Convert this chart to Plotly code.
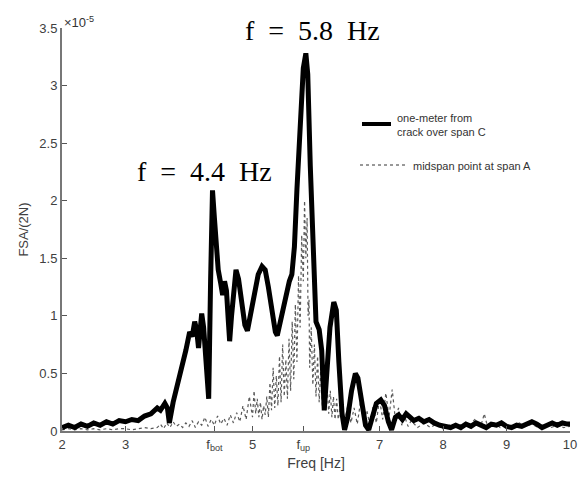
import plotly.graph_objects as go

# ---- data (values in units of 1e-5) ----
crack_freq = [2.00, 2.10, 2.20, 2.30, 2.40, 2.50, 2.60, 2.70, 2.80, 2.90, 3.00, 3.10, 3.20, 3.30,
              3.40, 3.50, 3.55, 3.62, 3.66, 3.69, 3.75, 3.82, 3.88, 3.95, 4.01, 4.05, 4.09, 4.12,
              4.15, 4.18, 4.20, 4.23, 4.26, 4.29, 4.31, 4.34, 4.37, 4.40, 4.43, 4.46, 4.50, 4.53,
              4.56, 4.59, 4.62, 4.64, 4.67, 4.71, 4.74, 4.78, 4.83, 4.88, 4.92, 4.97, 5.03, 5.09,
              5.15, 5.20, 5.25, 5.31, 5.36, 5.39, 5.45, 5.52, 5.58, 5.62, 5.66, 5.70, 5.75, 5.80,
              5.84, 5.87, 5.91, 5.96, 6.00, 6.05, 6.09, 6.13, 6.17, 6.22, 6.28, 6.32, 6.36, 6.41,
              6.45, 6.50, 6.56, 6.62, 6.66, 6.72, 6.78, 6.83, 6.88, 6.95, 7.02, 7.08, 7.14, 7.19,
              7.25, 7.30, 7.36, 7.42, 7.48, 7.54, 7.62, 7.70, 7.78, 7.86, 7.95, 8.04, 8.12, 8.20,
              8.28, 8.36, 8.44, 8.52, 8.60, 8.68, 8.76, 8.84, 8.92, 9.00, 9.08, 9.16, 9.24, 9.32,
              9.40, 9.48, 9.56, 9.64, 9.72, 9.80, 9.88, 9.96, 10.00]
crack_val = [0.03, 0.05, 0.03, 0.06, 0.04, 0.07, 0.05, 0.08, 0.06, 0.09, 0.08, 0.10, 0.09, 0.13,
             0.15, 0.20, 0.18, 0.24, 0.20, 0.07, 0.25, 0.40, 0.52, 0.70, 0.86, 0.82, 0.95, 0.88,
             0.72, 0.95, 1.02, 0.90, 0.60, 0.35, 0.28, 1.30, 2.09, 1.85, 1.55, 1.40, 1.28, 1.18,
             1.30, 1.22, 0.95, 0.78, 1.00, 1.28, 1.40, 1.32, 1.08, 0.92, 0.87, 1.00, 1.20, 1.36,
             1.43, 1.40, 1.25, 1.02, 0.86, 0.83, 0.97, 1.18, 1.30, 1.36, 1.60, 2.10, 2.70, 3.15,
             3.28, 3.10, 2.30, 1.40, 0.95, 0.88, 0.70, 0.18, 0.55, 0.90, 1.12, 1.05, 0.60, 0.15,
             0.01, 0.12, 0.35, 0.50, 0.46, 0.22, 0.05, 0.01, 0.10, 0.24, 0.27, 0.22, 0.08, 0.01,
             0.12, 0.14, 0.10, 0.15, 0.12, 0.09, 0.11, 0.08, 0.10, 0.07, 0.05, 0.04, 0.03, 0.05,
             0.03, 0.06, 0.04, 0.07, 0.05, 0.03, 0.06, 0.05, 0.07, 0.04, 0.03, 0.05, 0.04, 0.06,
             0.08, 0.06, 0.03, 0.05, 0.07, 0.05, 0.07, 0.06, 0.06]

mid_freq = [2.0, 2.1, 2.2, 2.3, 2.4, 2.5, 2.6, 2.7, 2.8, 2.9, 3.0, 3.1, 3.2, 3.3, 3.4,
            3.50, 3.55, 3.60, 3.65, 3.70, 3.75, 3.80, 3.85, 3.90, 3.95, 4.00, 4.05, 4.10, 4.15,
            4.20, 4.25, 4.30, 4.35, 4.40, 4.45, 4.50, 4.55, 4.60, 4.65, 4.70, 4.75, 4.80, 4.85,
            4.90, 4.95, 5.00,
            5.025, 5.05, 5.075, 5.10, 5.125, 5.15, 5.175, 5.20, 5.225, 5.25, 5.275, 5.30, 5.325,
            5.35, 5.375, 5.40, 5.425, 5.45, 5.475, 5.50, 5.525, 5.55, 5.575, 5.60, 5.625, 5.65,
            5.675, 5.70, 5.725, 5.75, 5.775, 5.80, 5.82, 5.84, 5.86, 5.875, 5.89, 5.90, 5.925,
            5.95, 5.975, 6.00, 6.025, 6.05, 6.075, 6.10, 6.125, 6.15, 6.175, 6.20, 6.225, 6.25,
            6.275, 6.30, 6.325,
            6.35, 6.40, 6.45, 6.50, 6.55, 6.60, 6.65, 6.70, 6.75, 6.80, 6.85, 6.90, 6.95, 7.00,
            7.05, 7.10, 7.15, 7.20, 7.25, 7.30, 7.35, 7.40, 7.45, 7.50,
            7.6, 7.7, 7.8, 7.9, 8.0, 8.1, 8.2, 8.3, 8.4, 8.5, 8.6, 8.65, 8.7, 8.8, 8.9, 9.0,
            9.1, 9.2, 9.3, 9.4, 9.5, 9.6, 9.7, 9.8, 9.9, 10.0]
mid_val = [0.01, 0.02, 0.01, 0.02, 0.01, 0.02, 0.01, 0.02, 0.01, 0.02, 0.02, 0.01, 0.02, 0.03, 0.02,
           0.03, 0.06, 0.02, 0.07, 0.03, 0.08, 0.04, 0.06, 0.03, 0.07, 0.04, 0.09, 0.03, 0.08,
           0.05, 0.12, 0.04, 0.10, 0.05, 0.13, 0.06, 0.11, 0.05, 0.14, 0.07, 0.16, 0.08, 0.22,
           0.10, 0.30, 0.12,
           0.35, 0.15, 0.28, 0.12, 0.25, 0.10, 0.22, 0.14, 0.30, 0.12, 0.42, 0.18, 0.55,
           0.20, 0.48, 0.22, 0.65, 0.25, 0.75, 0.30, 0.62, 0.28, 0.80, 0.35, 0.95, 0.45,
           1.10, 0.60, 1.35, 0.90, 1.70, 1.30, 2.00, 1.50, 1.85, 1.00, 1.14, 0.55, 0.90,
           0.40, 0.75, 0.30, 0.65, 0.25, 0.55, 0.22, 0.45, 0.18, 0.40, 0.15, 0.35, 0.12,
           0.30, 0.10, 0.28,
           0.10, 0.25, 0.08, 0.22, 0.07, 0.20, 0.06, 0.25, 0.08, 0.18, 0.05, 0.22, 0.07, 0.28,
           0.10, 0.33, 0.12, 0.36, 0.10, 0.20, 0.05, 0.12, 0.04, 0.09,
           0.03, 0.07, 0.03, 0.06, 0.02, 0.05, 0.03, 0.06, 0.04, 0.10, 0.05, 0.15, 0.04, 0.07,
           0.03, 0.06, 0.03, 0.07, 0.04, 0.06, 0.03, 0.05, 0.03, 0.05, 0.03, 0.04]

x_tick_vals = [2, 3, 4.4, 5, 5.8, 7, 8, 9, 10]
x_tick_text = ["2", "3", "f<sub>bot</sub>", "5", "f<sub>up</sub>", "7", "8", "9", "10"]
y_tick_vals = [0, 0.5, 1, 1.5, 2, 2.5, 3, 3.5]
y_tick_text = ["0", "0.5", "1", "1.5", "2", "2.5", "3", "3.5"]

name_crack = "one-meter from<br>crack over span C"
name_mid = "midspan point at span A"
NB = "\u00a0"
label_low = f"f{NB}{NB}={NB}{NB}4.4{NB}{NB}Hz"
label_high = f"f{NB}{NB}={NB}{NB}5.8{NB}{NB}Hz"

W, H = 579, 488
L, R, T, B = 62, 9, 28, 57
pw, ph = W - L - R, H - T - B

def px(x):  # screenshot pixel -> paper
    return (x - L) / pw

def py(y):
    return (H - B - y) / ph

fig = go.Figure()
fig.add_trace(go.Scatter(x=mid_freq, y=mid_val, mode="lines", name=name_mid,
                         line=dict(color="#5a5a5a", width=1.2, dash="dot"), showlegend=False))
fig.add_trace(go.Scatter(x=crack_freq, y=crack_val, mode="lines", name=name_crack,
                         line=dict(color="black", width=5), showlegend=False))

axis_font = dict(family="Liberation Sans, Arial, sans-serif", size=13, color="#404040")
fig.update_layout(
    width=W, height=H,
    margin=dict(l=L, r=R, t=T, b=B, autoexpand=False),
    paper_bgcolor="white", plot_bgcolor="white",
    font=axis_font,
    xaxis=dict(range=[2, 10], tickvals=x_tick_vals, ticktext=x_tick_text, automargin=False,
               ticks="inside", ticklen=5, tickcolor="#555", tickwidth=1,
               showline=True, linecolor="#777", linewidth=2, showgrid=False, zeroline=False,
               title=dict(text="Freq [Hz]", font=dict(size=14, color="#404040"), standoff=6),
               tickfont=axis_font),
    yaxis=dict(range=[0, 3.5], tickvals=y_tick_vals, ticktext=y_tick_text, automargin=False,
               ticks="inside", ticklen=5, tickcolor="#555", tickwidth=1,
               showline=True, linecolor="#777", linewidth=2, showgrid=False, zeroline=False,
               title=dict(text="FSA/(2N)", font=dict(size=13, color="#404040"), standoff=8),
               tickfont=axis_font),
)

# legend keys and texts
fig.add_shape(type="line", xref="paper", yref="paper", x0=px(362), x1=px(391), y0=py(124), y1=py(124),
              line=dict(color="black", width=4))
fig.add_shape(type="line", xref="paper", yref="paper", x0=px(360), x1=px(405), y0=py(165), y1=py(165),
              line=dict(color="#333", width=1, dash="dot"))
fig.add_annotation(xref="paper", yref="paper", x=px(395), y=py(125), text=name_crack, showarrow=False,
                   xanchor="left", yanchor="middle", align="left",
                   font=dict(family="Liberation Sans, Arial, sans-serif", size=11, color="#333"))
fig.add_annotation(xref="paper", yref="paper", x=px(411), y=py(166), text=name_mid, showarrow=False,
                   xanchor="left", yanchor="middle", align="left",
                   font=dict(family="Liberation Sans, Arial, sans-serif", size=11, color="#333"))

# peak labels
serif = dict(family="Liberation Serif, Times New Roman, serif", size=28, color="black")
fig.add_annotation(x=4.24, y=2.25, text=label_low, showarrow=False, font=serif)
fig.add_annotation(x=5.94, y=3.48, text=label_high, showarrow=False, font=serif, yanchor="middle")

# exponent
fig.add_annotation(xref="paper", yref="paper", x=0, y=1, text="×10<sup>-5</sup>", showarrow=False,
                   xanchor="left", yanchor="bottom", yshift=-4,
                   font=dict(family="Liberation Sans, Arial, sans-serif", size=13, color="#333"))

fig.write_html("out.html", config={"displayModeBar": False},
               post_script="document.body.style.margin='0';"
                           "document.documentElement.style.overflow='hidden';")
